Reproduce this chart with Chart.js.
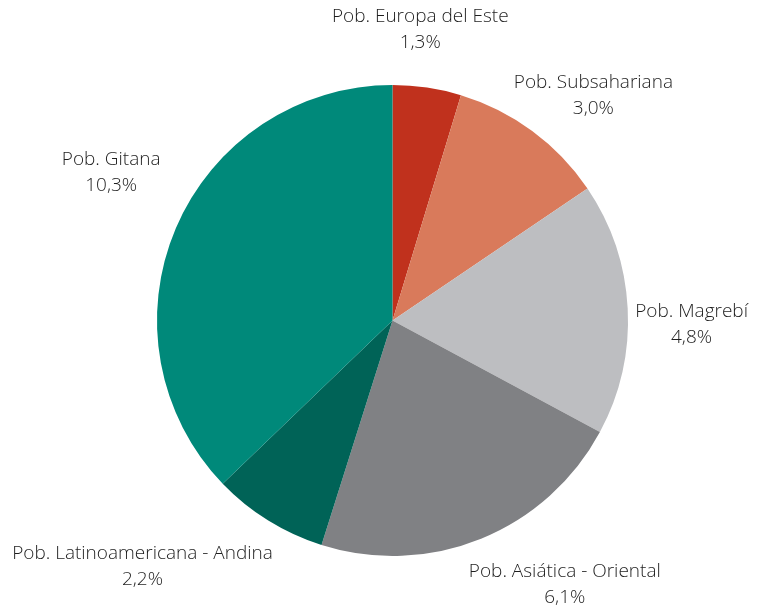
<!DOCTYPE html>
<html>
<head>
<meta charset="utf-8">
<script src="https://cdn.jsdelivr.net/npm/chart.js@4"></script>
<style>
  html, body { margin: 0; padding: 0; background: #fff; }
  #wrap { width: 761px; height: 613px; }
</style>
</head>
<body>
<div id="wrap"><canvas id="pieChart" width="761" height="613"></canvas></div>
<script>
const categories = [
  "Pob. Europa del Este",
  "Pob. Subsahariana",
  "Pob. Magrebí",
  "Pob. Asiática - Oriental",
  "Pob. Latinoamericana - Andina",
  "Pob. Gitana"
];
const percentages = [1.3, 3.0, 4.8, 6.1, 2.2, 10.3];
const valueLabels = ["1,3%", "3,0%", "4,8%", "6,1%", "2,2%", "10,3%"];

const sliceColors = ["#c0311d", "#d97a5b", "#bdbec1", "#808184", "#006357", "#00897a"];

// label placement: angle tweak (deg) from slice middle and distance as a factor of radius
const labelAngleShift = [-3, 5.4, 3.8, -11, 13.6, 4.7];
const labelDistance = [1.24, 1.28, 1.27, 1.34, 1.49, 1.35];

const outsideLabels = {
  id: 'outsideLabels',
  afterDraw(chart) {
    const ctx = chart.ctx;
    const meta = chart.getDatasetMeta(0);
    ctx.save();
    ctx.font = '300 19px "Open Sans", sans-serif';
    ctx.fillStyle = '#1e1e1e';
    ctx.textAlign = 'center';
    ctx.textBaseline = 'middle';
    meta.data.forEach((arc, i) => {
      const p = arc.getProps(['x', 'y', 'startAngle', 'endAngle', 'outerRadius'], true);
      const mid = (p.startAngle + p.endAngle) / 2 + labelAngleShift[i] * Math.PI / 180;
      const d = p.outerRadius * labelDistance[i];
      const cx = p.x + Math.cos(mid) * d;
      const cy = p.y + Math.sin(mid) * d;
      ctx.fillText(categories[i], cx, cy - 13);
      ctx.fillText(valueLabels[i], cx, cy + 13);
    });
    ctx.restore();
  }
};

new Chart(document.getElementById('pieChart').getContext('2d'), {
  type: 'pie',
  data: {
    labels: categories,
    datasets: [{
      data: percentages,
      backgroundColor: sliceColors,
      borderWidth: 0
    }]
  },
  options: {
    responsive: false,
    animation: false,
    layout: { padding: { top: 85, bottom: 57, left: 157, right: 133 } },
    plugins: {
      legend: { display: false },
      tooltip: { enabled: false }
    }
  },
  plugins: [outsideLabels]
});
</script>
</body>
</html>
